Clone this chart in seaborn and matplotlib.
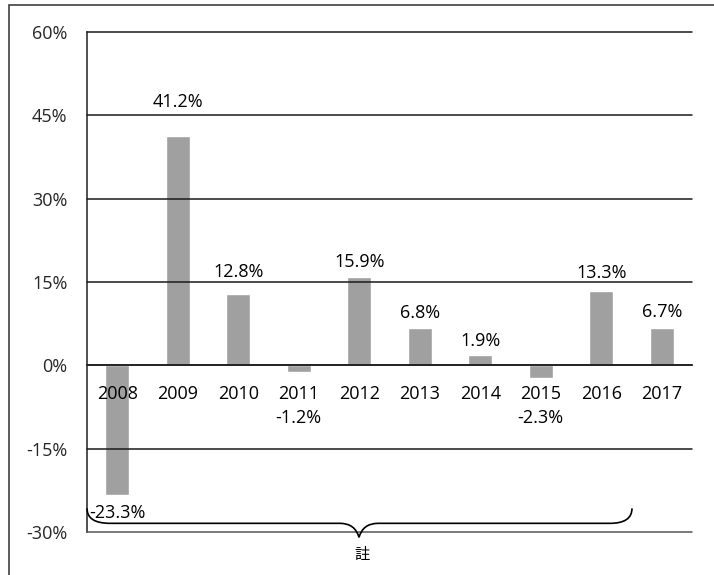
import matplotlib
matplotlib.use("Agg")
import matplotlib.pyplot as plt
import seaborn as sns
import pandas as pd
from matplotlib.path import Path
from matplotlib.patches import PathPatch, Rectangle
from matplotlib.ticker import FixedLocator

years = ["2008", "2009", "2010", "2011", "2012", "2013", "2014", "2015", "2016", "2017"]
returns = [-23.3, 41.2, 12.8, -1.2, 15.9, 6.8, 1.9, -2.3, 13.3, 6.7]
y_ticks = [-30, -15, 0, 15, 30, 45, 60]
note_text = "註"

# label nudges (pixels from bar end)
label_shift_px = [-18, 34, 22, -46, 15, 15, 14, -40, 18, 16]

sns.set_theme(style="white")
plt.rcParams["font.family"] = ["Open Sans", "Noto Sans CJK JP", "DejaVu Sans"]
FS = 13

df = pd.DataFrame({"year": years, "ret": returns})

fig = plt.figure(figsize=(7.14, 5.75), dpi=100)
ax = fig.add_axes([87 / 714, 1 - 532 / 575, 605 / 714, 500 / 575])

sns.barplot(data=df, x="year", y="ret", color="#a0a0a0", saturation=1,
            width=0.4, ax=ax, zorder=2)

ax.set_xlim(-0.5, len(years) - 0.5)
ax.set_ylim(-30, 60)
ax.set_yticks(y_ticks)
ax.set_yticklabels([f"{t}%" for t in y_ticks])
ax.set_xlabel("")
ax.set_ylabel("")
ax.set_axisbelow(False)

# grid lines on top of bars
for t in y_ticks:
    ax.axhline(t, color="#1a1a1a" if t > -30 else "#555555", lw=1.1, zorder=3,
               clip_on=False)

for s in ["top", "right"]:
    ax.spines[s].set_visible(False)
ax.spines["bottom"].set_position(("data", 0))
ax.spines["bottom"].set_color("#333333")
ax.spines["bottom"].set_linewidth(1.2)
ax.spines["left"].set_color("#333333")
ax.spines["left"].set_linewidth(1.2)
ax.xaxis.set_zorder(4)
ax.yaxis.set_zorder(4)

ax.xaxis.set_minor_locator(FixedLocator([i - 0.5 for i in range(len(years) + 1)]))
ax.tick_params(axis="x", which="major", length=0, pad=14, labelsize=FS, colors="black")
ax.tick_params(axis="x", which="minor", length=5, width=1.0, color="#333333", direction="out")
ax.tick_params(axis="y", length=7, width=1.0, color="#333333", pad=7, labelsize=FS)

for i, v in enumerate(returns):
    ax.annotate(f"{v}%", (i, v), xytext=(0, label_shift_px[i] * 0.72),
                textcoords="offset points", ha="center", va="center",
                fontsize=FS, color="black", annotation_clip=False, zorder=5)

# curly brace below the bars
def px_to_data(px, py):
    return (px - 87) / 60.5 - 0.5, (365 - py) / (500 / 90)

pts = [(87, 508), (87, 523), (110, 523), (340, 523), (355, 523), (359, 537),
       (363, 523), (378, 523), (610, 523), (632, 523), (632, 508)]
verts = [px_to_data(*p) for p in pts]
codes = [Path.MOVETO, Path.CURVE3, Path.CURVE3, Path.LINETO, Path.CURVE3, Path.CURVE3,
         Path.CURVE3, Path.CURVE3, Path.LINETO, Path.CURVE3, Path.CURVE3]
ax.add_patch(PathPatch(Path(verts, codes), fill=False, lw=1.2, color="black",
                       clip_on=False, zorder=5))
nx, ny = px_to_data(362, 555)
ax.text(nx, ny, note_text, ha="center", va="center", fontsize=11, color="black",
        clip_on=False)

# outer frame
fig.patches.append(Rectangle((9 / 714, -0.1), 1.2, 1 - 5 / 575 + 0.1,
                             transform=fig.transFigure, fill=False,
                             edgecolor="#404040", lw=1.2))

fig.savefig("out.png", dpi=100)
